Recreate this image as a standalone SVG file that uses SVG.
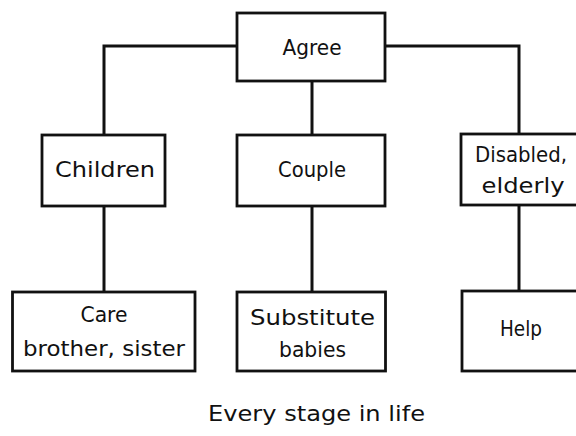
<svg xmlns="http://www.w3.org/2000/svg" width="576" height="436" viewBox="0 0 576 436">
  <style>
    .box { fill: #ffffff; stroke: #111111; stroke-width: 2.8; }
    .edge { fill: none; stroke: #111111; stroke-width: 3; stroke-linecap: square; }
    .lbl { font-family: "DejaVu Sans", "Liberation Sans", sans-serif; font-size: 21px; fill: #111111; text-anchor: middle; }
  </style>
  <rect x="0" y="0" width="576" height="436" fill="#ffffff"/>
  <g id="connectors">
    <path class="edge" d="M237 46 H104 V135"/>
    <path class="edge" d="M385 46 H519 V134"/>
    <path class="edge" d="M312 81 V135"/>
    <path class="edge" d="M104 206 V292"/>
    <path class="edge" d="M312 206 V292"/>
    <path class="edge" d="M519 205 V291"/>
  </g>
  <g id="node-agree">
    <rect class="box" x="237" y="13" width="148" height="68"/>
    <text class="lbl" x="312" y="55" textLength="59" lengthAdjust="spacingAndGlyphs">Agree</text>
  </g>
  <g id="node-children">
    <rect class="box" x="42" y="135" width="123" height="71"/>
    <text class="lbl" x="105" y="177" textLength="100" lengthAdjust="spacingAndGlyphs">Children</text>
  </g>
  <g id="node-couple">
    <rect class="box" x="237" y="135" width="148" height="71"/>
    <text class="lbl" x="312" y="177" textLength="68" lengthAdjust="spacingAndGlyphs">Couple</text>
  </g>
  <g id="node-disabled">
    <rect class="box" x="461" y="134" width="125" height="71"/>
    <text class="lbl" x="521" y="162" textLength="92" lengthAdjust="spacingAndGlyphs">Disabled,</text>
    <text class="lbl" x="523" y="193" textLength="83" lengthAdjust="spacingAndGlyphs">elderly</text>
  </g>
  <g id="node-care">
    <rect class="box" x="12.5" y="292" width="182.5" height="79"/>
    <text class="lbl" x="104" y="322" textLength="47" lengthAdjust="spacingAndGlyphs">Care</text>
    <text class="lbl" x="104" y="356" textLength="162" lengthAdjust="spacingAndGlyphs">brother, sister</text>
  </g>
  <g id="node-substitute">
    <rect class="box" x="237" y="292" width="148.5" height="79"/>
    <text class="lbl" x="312.5" y="325" textLength="125" lengthAdjust="spacingAndGlyphs">Substitute</text>
    <text class="lbl" x="312.5" y="357" textLength="67" lengthAdjust="spacingAndGlyphs">babies</text>
  </g>
  <g id="node-help">
    <rect class="box" x="462" y="291" width="124" height="80"/>
    <text class="lbl" x="521" y="336" textLength="42" lengthAdjust="spacingAndGlyphs">Help</text>
  </g>
  <text class="lbl" x="316.5" y="421" textLength="217" lengthAdjust="spacingAndGlyphs">Every stage in life</text>
</svg>
